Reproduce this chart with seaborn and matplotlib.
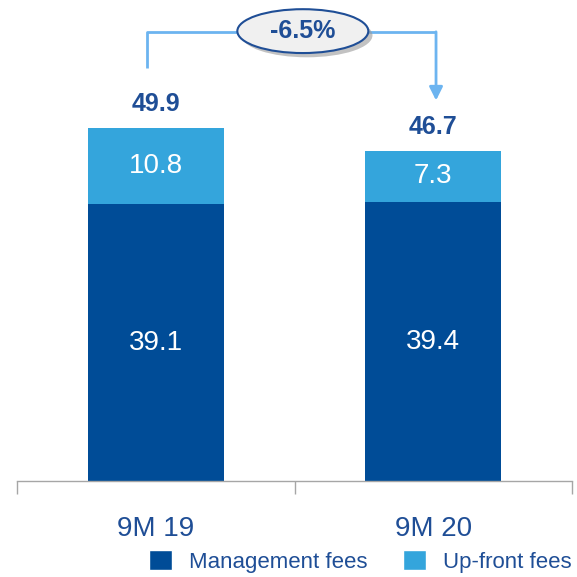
import matplotlib
matplotlib.use("Agg")
import matplotlib.pyplot as plt
from matplotlib.patches import Ellipse, Patch
import pandas as pd
import seaborn as sns

periods = ["9M 19", "9M 20"]
management = [39.1, 39.4]
upfront = [10.8, 7.3]
totals = [49.9, 46.7]
change_label = "-6.5%"

dark_blue = "#004C97"
light_blue = "#34A5DC"
navy = "#1F4E96"
arrow_blue = "#6CB4F0"

sns.set_style("white")
plt.rcParams["font.family"] = ["Liberation Sans Narrow", "Liberation Sans", "DejaVu Sans"]

df = pd.DataFrame({"period": periods, "management": management,
                   "upfront": upfront, "total": totals})

fig = plt.figure(figsize=(5.77, 5.77), dpi=100)
ax = fig.add_axes([17 / 577, 96 / 577, 555 / 577, 481 / 577])

# stacked bars: total (light) behind, management (dark) in front
sns.barplot(data=df, x="period", y="total", color=light_blue, width=0.49,
            saturation=1, linewidth=0, ax=ax)
sns.barplot(data=df, x="period", y="management", color=dark_blue, width=0.49,
            saturation=1, linewidth=0, ax=ax)

ax.set_xlim(-0.5, 1.5)
ax.set_ylim(0, 68.0)

for i in range(len(periods)):
    ax.text(i, management[i] / 2, f"{management[i]:.1f}", ha="center", va="center",
            color="white", fontsize=20)
    ax.text(i, management[i] + upfront[i] / 2, f"{upfront[i]:.1f}", ha="center",
            va="center", color="white", fontsize=20)
    ax.text(i, totals[i] + 3.4, f"{totals[i]:.1f}", ha="center", va="center",
            color=navy, fontsize=18, fontweight="bold")

# bracket arrow with change bubble
ax.plot([-0.03, -0.03, 1.01], [58.4, 63.5, 63.5], color=arrow_blue, lw=2,
        clip_on=False, solid_capstyle="butt")
ax.annotate("", xy=(1.01, 53.8), xytext=(1.01, 63.5),
            arrowprops=dict(arrowstyle="-|>,head_length=0.8,head_width=0.4",
                            color=arrow_blue, lw=2, shrinkA=0, shrinkB=0))
shadow = Ellipse((0.545, 63.0), 0.472, 6.2, facecolor="#9a9a9a", edgecolor="none",
                 alpha=0.6, zorder=4, clip_on=False)
ax.add_patch(shadow)
bubble = Ellipse((0.53, 63.6), 0.472, 6.2, facecolor="#f0f0f0", edgecolor=navy,
                 lw=1.5, zorder=5, clip_on=False)
ax.add_patch(bubble)
ax.text(0.53, 63.6, change_label, ha="center", va="center", color=navy,
        fontsize=18, fontweight="bold", zorder=6)

# axes styling
for side in ["top", "right", "left"]:
    ax.spines[side].set_visible(False)
ax.spines["bottom"].set_color("#a6a6a6")
ax.spines["bottom"].set_linewidth(1)
ax.set_yticks([])
ax.set_xlabel("")
ax.set_ylabel("")
ax.set_xticks([-0.5, 0.5, 1.5], minor=True)
ax.tick_params(axis="x", which="minor", bottom=True, length=9, color="#a6a6a6",
               width=1, direction="out")
ax.tick_params(axis="x", which="major", length=0, labelsize=20, labelcolor=navy,
               pad=25)

handles = [Patch(facecolor=dark_blue, label="Management fees"),
           Patch(facecolor=light_blue, label="Up-front fees")]
fig.legend(handles=handles, loc="center", bbox_to_anchor=(0.625, 0.027), ncol=2,
           frameon=False, fontsize=16, labelcolor=navy, handlelength=1.0,
           handleheight=1.0, handletextpad=0.8, columnspacing=1.6)

fig.savefig("out.png", dpi=100)
